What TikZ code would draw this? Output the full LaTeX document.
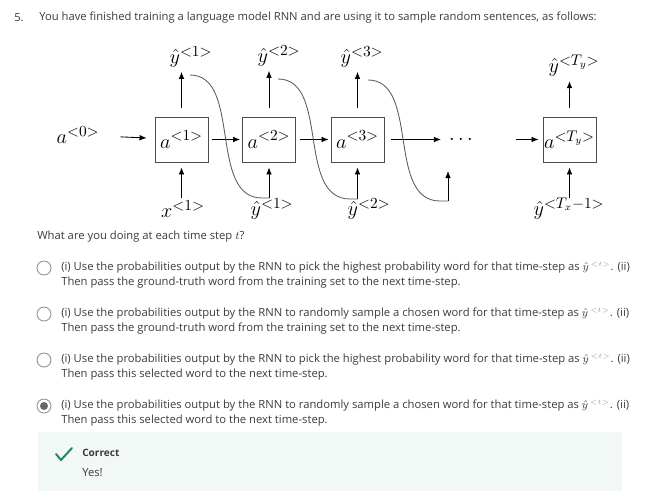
\documentclass[tikz,border=0pt]{standalone}
\usepackage{fontspec}
\setmainfont{Open Sans}
\usetikzlibrary{arrows.meta}
\definecolor{txtgray}{HTML}{3C3C3C}
\definecolor{ringgray}{HTML}{9A9A9A}
\definecolor{okgreen}{HTML}{1E8A55}
\definecolor{okbg}{HTML}{F2F8F6}
\tikzset{
  rnnbox/.style={draw=black!70,line width=0.6pt,minimum width=53*0.025cm,minimum height=45*0.025cm,inner sep=0pt},
  mlbl/.style={font=\fontsize{15}{17}\selectfont,inner sep=0pt},
  arr/.style={-{Latex[length=5pt,width=4pt]},line width=0.6pt},
  feed/.style={line width=0.6pt,black!65},
  txt/.style={font=\fontsize{8}{11}\selectfont,text=txtgray,anchor=west,inner sep=0pt},
  radio/.style={circle,draw=ringgray,line width=0.7pt,minimum size=14*0.025cm,inner sep=0pt}
}
\begin{document}
\begin{tikzpicture}[x=0.025cm,y=-0.025cm]
\useasboundingbox (0,0) rectangle (649,493);
\node[txt] (num) at (14,18) {5.};
\node[txt] (q) at (39,18) {You have finished training a language model RNN and are using it to sample random sentences, as follows:};
\node[mlbl] (a0) at (78,135) {$a^{<0>}$};
\node[rnnbox] (a1) at (181.5,139.5) {\fontsize{15}{17}\selectfont$a^{<1>}$};
\node[rnnbox] (a2) at (269,139.5) {\fontsize{15}{17}\selectfont$a^{<2>}$};
\node[rnnbox] (a3) at (357.5,139.5) {\fontsize{15}{17}\selectfont$a^{<3>}$};
\node[rnnbox] (aT) at (569.5,139.5) {\fontsize{15}{17}\selectfont$a^{<T_y>}$};
\node[mlbl] (dots) at (461,139.5) {$\cdots$};
\node[mlbl] (yt1) at (191,57) {$\hat{y}^{<1>}$};
\node[mlbl] (yt2) at (279,56) {$\hat{y}^{<2>}$};
\node[mlbl] (yt3) at (362,57) {$\hat{y}^{<3>}$};
\node[mlbl] (ytT) at (574,66) {$\hat{y}^{<T_y>}$};
\node[mlbl] (x1) at (183,209) {$x^{<1>}$};
\node[mlbl] (yb1) at (272,209) {$\hat{y}^{<1>}$};
\node[mlbl] (yb2) at (369,209) {$\hat{y}^{<2>}$};
\node[mlbl] (ybT) at (569,209) {$\hat{y}^{<T_x-1>}$};
\coordinate (f1) at (190,75);
\coordinate (f2) at (278,79);
\coordinate (f3) at (368,80);
\coordinate (in1) at (181.5,198);
\coordinate (in2) at (269,198);
\coordinate (in3) at (357.5,199);
\coordinate (in4) at (448,201);
\coordinate (t4) at (448,171);
\coordinate (inT) at (569.5,198);
\draw[arr,shorten <=21*0.025cm,shorten >=8*0.025cm] (a0) -- (a1);
\draw[arr,shorten <=4*0.025cm,shorten >=2*0.025cm] (a1) -- (a2);
\draw[arr,shorten <=4*0.025cm,shorten >=2*0.025cm] (a2) -- (a3);
\draw[arr,shorten <=7*0.025cm,shorten >=8*0.025cm] (a3) -- (dots);
\draw[arr,shorten <=43*0.025cm,shorten >=4*0.025cm] (dots) -- (aT);
\foreach \b/\t in {a1/yt1,a2/yt2,a3/yt3,aT/ytT}
  \draw[arr,shorten <=9*0.025cm,shorten >=4*0.025cm] (\b.north) -- (\b.north |- \t.south);
\foreach \c/\b in {in1/a1,in2/a2,in3/a3,inT/aT}
  \draw[arr,shorten >=5*0.025cm] (\c) -- (\b.south);
\draw[arr] (in4) -- (t4);
\draw[feed] (f1) .. controls (242,75) and (208,198) .. (262,198) -- (in2);
\draw[feed] (f2) .. controls (330,79) and (296,199) .. (350,199) -- (in3);
\draw[feed] (f3) .. controls (420,80) and (386,201) .. (440,201) -- (in4);
\node[txt] (ask) at (37,237) {What are you doing at each time step $t$?};
\foreach \y/\a/\b in {268/pick the highest probability word/the ground-truth word from the training set,
  314/randomly sample a chosen word/the ground-truth word from the training set,
  360/pick the highest probability word/this selected word,
  406/randomly sample a chosen word/this selected word}{
  \node[radio] (r\y) at (44,\y) {};
  \node[txt] (o\y) at (61,\y) {(i) Use the probabilities output by the RNN to \a{} for that time-step as $\hat{y}^{\mkern3mu\textcolor{ringgray}{\scriptscriptstyle <t>}}$. (ii)};
  \node[txt] (p\y) at (61,\y+15) {Then pass \b{} to the next time-step.};
}
\node[circle,fill=black!60,minimum size=8*0.025cm,inner sep=0pt] (sel) at (r406) {};
\fill[okbg] (38,432) rectangle (622,491);
\draw[okgreen,line width=1.4pt,line cap=round,line join=round] (56,454) -- (61,460) -- (72,448);
\node[txt,font=\fontsize{7.2}{9}\selectfont\bfseries] (ok) at (82,453) {Correct};
\node[txt] (yes) at (82,473) {Yes!};
\end{tikzpicture}
\end{document}
